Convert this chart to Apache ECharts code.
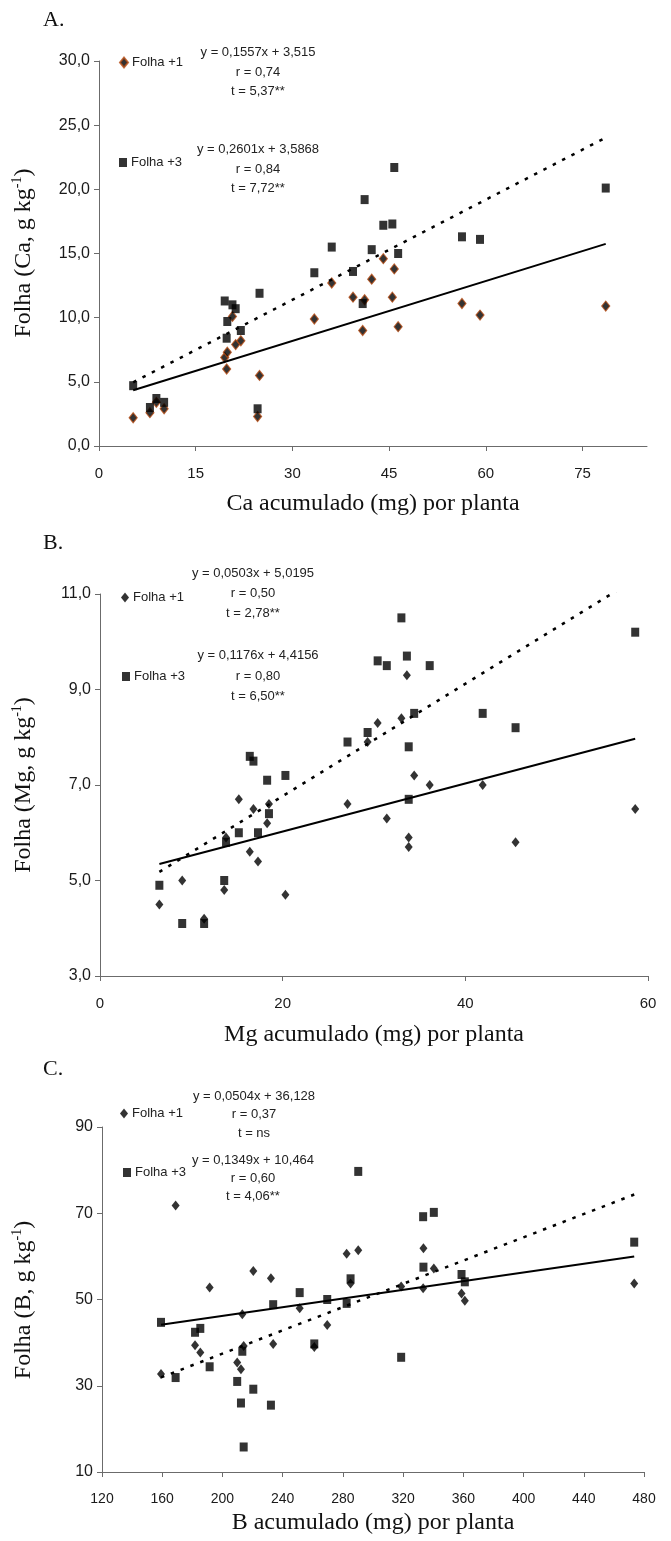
<!DOCTYPE html>
<html><head><meta charset="utf-8">
<script src="https://cdn.jsdelivr.net/npm/echarts@6/dist/echarts.min.js"></script>
<style>html,body{margin:0;padding:0;background:#fff}#c{width:671px;height:1541px}</style>
</head><body><div id="c"></div>
<script>
// ---------- Panel A: Ca ----------
const caX  = [5.3, 7.9, 8.9, 10.1, 19.5, 19.8, 19.9, 20.7, 21.2, 22.0, 24.6, 24.9, 33.4, 36.1, 39.4, 40.9, 41.2, 42.3, 44.1, 45.5, 45.8, 46.4, 56.3, 59.1, 78.6];
const caF1 = [2.2, 2.6, 3.4, 2.9, 6.9, 6.0, 7.3, 10.1, 7.9, 8.2, 2.3, 5.5, 9.9, 12.7, 11.6, 9.0, 11.4, 13.0, 14.6, 11.6, 13.8, 9.3, 11.1, 10.2, 10.9];
const caF3 = [4.7, 3.0, 3.7, 3.4, 11.3, 8.4, 9.7, 11.0, 10.7, 9.0, 2.9, 11.9, 13.5, 15.5, 13.6, 11.1, 19.2, 15.3, 17.2, 17.3, 21.7, 15.0, 16.3, 16.1, 20.1];
const caXTicks = [0, 15, 30, 45, 60, 75];
// ---------- Panel B: Mg ----------
const mgX  = [6.5, 9.0, 11.4, 13.6, 13.8, 15.2, 16.4, 16.8, 17.3, 18.3, 18.5, 20.3, 27.1, 29.3, 30.4, 31.4, 33.0, 33.6, 33.8, 33.8, 34.4, 36.1, 41.9, 45.5, 58.6];
const mgF1 = [4.5, 5.0, 4.2, 4.8, 5.9, 6.7, 5.6, 6.5, 5.4, 6.2, 6.6, 4.7, 6.6, 7.9, 8.3, 6.3, 8.4, 9.3, 5.9, 5.7, 7.2, 7.0, 7.0, 5.8, 6.5];
const mgF3 = [4.9, 4.1, 4.1, 5.0, 5.8, 6.0, 7.6, 7.5, 6.0, 7.1, 6.4, 7.2, 7.9, 8.1, 9.6, 9.5, 10.5, 9.7, 7.8, 6.7, 8.5, 9.5, 8.5, 8.2, 10.2];
// ---------- Panel C: B ----------
const bX  = [159.2, 168.9, 181.8, 185.3, 191.5, 209.8, 212.3, 213.2, 214.1, 220.5, 232.2, 233.7, 251.3, 261.0, 269.6, 282.5, 285.1, 290.2, 318.7, 333.3, 333.5, 340.4, 358.8, 361.0, 473.5];
const bF1 = [32.7, 71.8, 39.4, 37.7, 52.8, 35.4, 33.8, 46.6, 39.2, 56.6, 54.9, 39.7, 48.0, 39.0, 44.1, 60.6, 53.7, 61.4, 53.0, 52.6, 61.9, 57.2, 51.4, 49.7, 53.7];
const bF3 = [44.7, 31.9, 42.4, 43.3, 34.4, 31.0, 26.0, 38.0, 15.8, 29.2, 25.5, 48.8, 51.6, 39.7, 50.0, 49.1, 54.8, 79.7, 36.6, 69.2, 57.5, 70.2, 55.8, 54.1, 63.3];
// regression coefficients printed on the chart [slope, intercept]
const regA1 = [0.1557, 3.515],  regA3 = [0.2601, 3.5868];
const regB1 = [0.0503, 5.0195], regB3 = [0.1176, 4.4156];
const regC1 = [0.0504, 36.128], regC3 = [0.1349, 10.464];
// texts
const eqA1 = ['y = 0,1557x + 3,515', 'r = 0,74', 't = 5,37**'];
const eqA3 = ['y = 0,2601x + 3,5868', 'r = 0,84', 't = 7,72**'];
const eqB1 = ['y = 0,0503x + 5,0195', 'r = 0,50', 't = 2,78**'];
const eqB3 = ['y = 0,1176x + 4,4156', 'r = 0,80', 't = 6,50**'];
const eqC1 = ['y = 0,0504x + 36,128', 'r = 0,37', 't = ns'];
const eqC3 = ['y = 0,1349x + 10,464', 'r = 0,60', 't = 4,06**'];

const SANS = 'Liberation Sans, Arial, sans-serif';
const SERIF = 'Liberation Serif, Times New Roman, serif';
const AX = '#6b6b6b';

function pts(xs, ys) { return xs.map((x, i) => [x, ys[i]]); }
function trend(xs, c) {
  const lo = Math.min(...xs), hi = Math.max(...xs);
  return [[lo, c[0] * lo + c[1]], [hi, c[0] * hi + c[1]]];
}
const comma1 = v => v.toFixed(1).replace('.', ',');

function xAxisCfg(gi, min, max, interval, fs, extra) {
  return Object.assign({
    type: 'value', gridIndex: gi, min, max, interval,
    splitLine: { show: false },
    axisLine: { onZero: false, lineStyle: { color: AX, width: 1 } },
    axisTick: { lineStyle: { color: AX }, length: 5 },
    axisLabel: { color: '#1a1a1a', fontSize: fs, fontFamily: SANS, margin: 20 }
  }, extra || {});
}
function yAxisCfg(gi, min, max, interval, fmt) {
  return {
    type: 'value', gridIndex: gi, min, max, interval,
    splitLine: { show: false },
    axisLine: { show: true, onZero: false, lineStyle: { color: AX, width: 1 } },
    axisTick: { show: true, lineStyle: { color: AX }, length: 5 },
    axisLabel: { color: '#1a1a1a', fontSize: 16, fontFamily: SANS, margin: 9, formatter: fmt }
  };
}

function scatter(name, gi, data, sym, style) {
  return {
    name, type: 'scatter', xAxisIndex: gi, yAxisIndex: gi, data,
    symbol: sym, symbolSize: sym === 'diamond' ? [8, 10] : [8, 9],
    itemStyle: style, emphasis: { disabled: true }, z: sym === 'rect' ? 3 : 2
  };
}
function line(gi, data, dashed) {
  return {
    type: 'line', xAxisIndex: gi, yAxisIndex: gi, data, symbol: 'none', clip: true,
    lineStyle: dashed ? { color: '#000', width: 2.5, type: [3.5, 7] } : { color: '#000', width: 2 },
    silent: true, z: 4
  };
}

function eqTexts(lines, cx, ys) {
  return lines.map((t, i) => ({
    type: 'text', x: cx, y: ys[i], silent: true,
    style: { text: t, fontSize: 13, fontFamily: SANS, fill: '#222',
             align: 'center', textAlign: 'center', verticalAlign: 'middle', textVerticalAlign: 'middle' }
  }));
}
function plain(t, x, y, fs, fam, align) {
  return { type: 'text', x, y, silent: true,
    style: { text: t, fontSize: fs, fontFamily: fam, fill: '#111',
             align: align, textAlign: align, verticalAlign: 'middle', textVerticalAlign: 'middle' } };
}
function yTitle(main, x, y) {
  return { type: 'text', x, y, rotation: Math.PI / 2, silent: true,
    style: { text: '{n|' + main + '}{s|-1}{n|)}', fill: '#111',
      align: 'center', textAlign: 'center', verticalAlign: 'middle', textVerticalAlign: 'middle',
      rich: { n: { fontSize: 24, fontFamily: SERIF, lineHeight: 28, fill: '#111' },
              s: { fontSize: 14, fontFamily: SERIF, verticalAlign: 'top', lineHeight: 28, fill: '#111' } } } };
}
function legendCfg(name, icon, left, top) {
  return { show: true, data: [name], icon, itemWidth: 8, itemHeight: icon === 'diamond' ? 10 : 9,
    left, top, padding: 0, selectedMode: false,
    formatter: n => n.split(':')[1],
    textStyle: { fontSize: 13, fontFamily: SANS, color: '#222', padding: [0, 0, 0, -1] } };
}

const brownDiamond = { color: '#000', borderColor: '#b44a12', borderWidth: 1.2 };
const blackDiamond = { color: '#000' };
const blackSquare = { color: '#000' };

const option = {
  animation: false,
  backgroundColor: '#fff',
  grid: [
    { left: 99, top: 61, width: 548, height: 385 },
    { left: 100, top: 594, width: 548, height: 382 },
    { left: 102, top: 1127, width: 542, height: 345 }
  ],
  xAxis: [
    xAxisCfg(0, 0, 85, 15, 15, {
      axisLabel: { color: '#1a1a1a', fontSize: 15, fontFamily: SANS, margin: 20, customValues: caXTicks },
      axisTick: { lineStyle: { color: AX }, length: 5, customValues: caXTicks }
    }),
    xAxisCfg(1, 0, 60, 20, 15),
    xAxisCfg(2, 120, 480, 40, 14)
  ],
  yAxis: [
    yAxisCfg(0, 0, 30, 5, comma1),
    yAxisCfg(1, 3, 11, 2, comma1),
    yAxisCfg(2, 10, 90, 20, v => String(v))
  ],
  legend: [
    legendCfg('A:Folha +1', 'diamond', 119, 56),
    legendCfg('A:Folha +3', 'rect', 119, 156),
    legendCfg('B:Folha +1', 'diamond', 121, 591),
    legendCfg('B:Folha +3', 'rect', 122, 670),
    legendCfg('C:Folha +1', 'diamond', 120, 1107),
    legendCfg('C:Folha +3', 'rect', 123, 1166)
  ],
  series: [
    scatter('A:Folha +1', 0, pts(caX, caF1), 'diamond', brownDiamond),
    scatter('A:Folha +3', 0, pts(caX, caF3), 'rect', blackSquare),
    line(0, trend(caX, regA1), false),
    line(0, trend(caX, regA3), true),
    scatter('B:Folha +1', 1, pts(mgX, mgF1), 'diamond', blackDiamond),
    scatter('B:Folha +3', 1, pts(mgX, mgF3), 'rect', blackSquare),
    line(1, trend(mgX, regB1), false),
    line(1, trend(mgX, regB3), true),
    scatter('C:Folha +1', 2, pts(bX, bF1), 'diamond', blackDiamond),
    scatter('C:Folha +3', 2, pts(bX, bF3), 'rect', blackSquare),
    line(2, trend(bX, regC1), false),
    line(2, trend(bX, regC3), true)
  ],
  graphic: [
    plain('A.', 43, 20, 22, SERIF, 'left'),
    plain('B.', 43, 543, 22, SERIF, 'left'),
    plain('C.', 43, 1069, 22, SERIF, 'left'),
    ...eqTexts(eqA1, 258, [52, 72, 91]),
    ...eqTexts(eqA3, 258, [149, 169, 188]),
    ...eqTexts(eqB1, 253, [573, 593, 613]),
    ...eqTexts(eqB3, 258, [655, 676, 696]),
    ...eqTexts(eqC1, 254, [1096, 1114, 1133]),
    ...eqTexts(eqC3, 253, [1160, 1178, 1196]),
    plain('Ca acumulado (mg) por planta', 373, 504, 24, SERIF, 'center'),
    plain('Mg acumulado (mg) por planta', 374, 1035, 24, SERIF, 'center'),
    plain('B acumulado (mg) por planta', 373, 1523, 24, SERIF, 'center'),
    yTitle('Folha (Ca, g kg', 24, 253),
    yTitle('Folha (Mg, g kg', 24, 785),
    yTitle('Folha (B, g kg', 24, 1300)
  ]
};
const chart = echarts.init(document.getElementById('c'), null, { renderer: 'canvas' });
chart.setOption(option);
</script></body></html>
